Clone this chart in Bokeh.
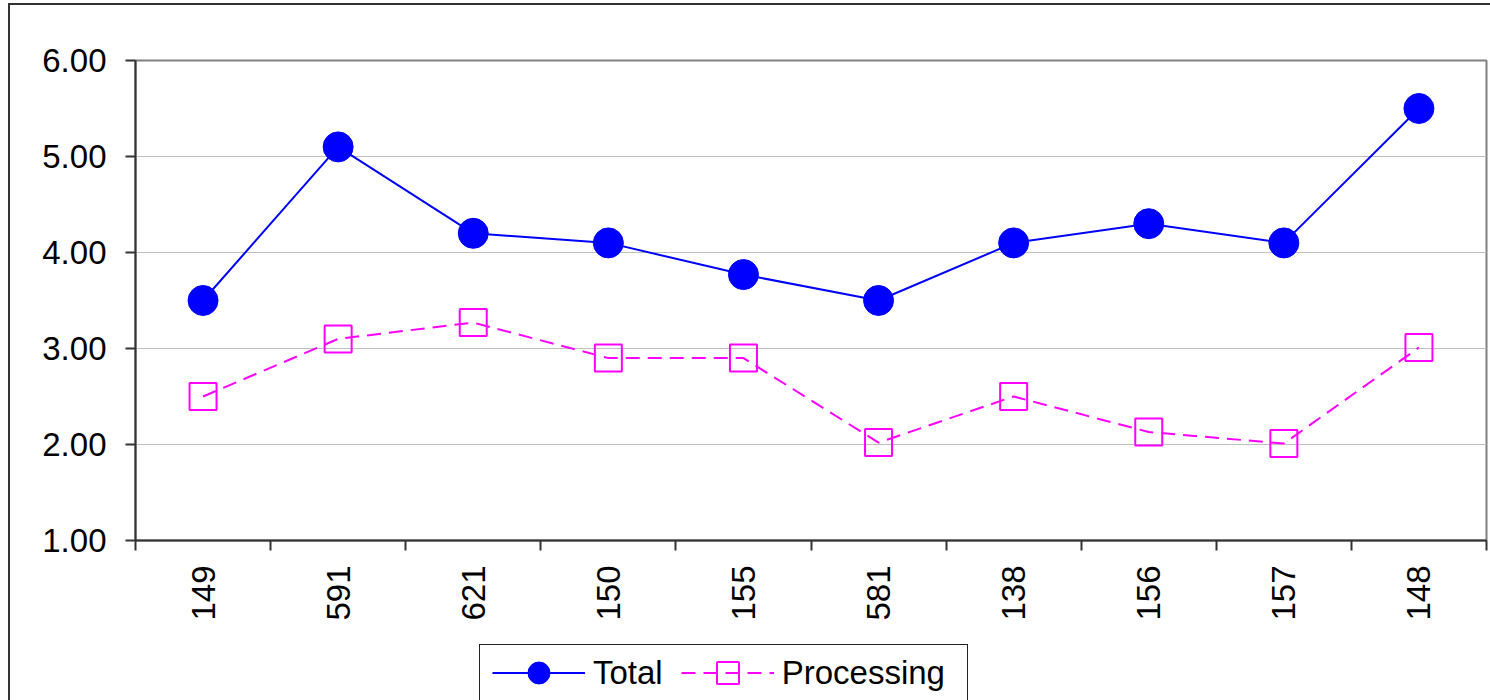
import math
from bokeh.plotting import figure
from bokeh.layouts import column
from bokeh.models import (FixedTicker, NumeralTickFormatter, Legend, LegendItem,
                          Range1d, InlineStyleSheet)
from bokeh.embed import file_html
from bokeh.resources import INLINE

# Categories along the x axis and the two series
categories = ["149", "591", "621", "150", "155", "581", "138", "156", "157", "148"]
total = [3.5, 5.1, 4.2, 4.1, 3.77, 3.5, 4.1, 4.3, 4.1, 5.5]
processing = [2.5, 3.1, 3.27, 2.9, 2.9, 2.02, 2.5, 2.13, 2.01, 3.01]
y_ticks = [1, 2, 3, 4, 5, 6]

FONT = "Liberation Sans"
BLUE = "#0000ff"
MAGENTA = "#ff00ff"
DASH = "14 8"

n = len(categories)
xs = [i + 0.5 for i in range(n)]

# Chart border (top and left edges) drawn with CSS around the plot
chart_border = InlineStyleSheet(css="""
:host { position: relative; }
:host::before {
  content: ""; position: absolute; left: 8px; top: 3px;
  width: 1482px; height: 633px; box-sizing: border-box;
  border-left: 2px solid #333; border-top: 2px solid #333;
  pointer-events: none; z-index: 10;
}
""")
# Continuation of the chart border and the box around the legend
legend_border = InlineStyleSheet(css="""
:host { position: relative; }
:host::before {
  content: ""; position: absolute; left: 8px; top: 0px;
  width: 2px; height: 64px; background: #333;
  pointer-events: none; z-index: 10;
}
:host::after {
  content: ""; position: absolute; left: 479px; top: 8px;
  width: 489px; height: 56px; box-sizing: border-box;
  border-left: 1.5px solid #222; border-top: 1.5px solid #222;
  border-right: 1.5px solid #222;
  pointer-events: none; z-index: 10;
}
""")

p = figure(width=1490, height=636, output_backend="svg", toolbar_location=None,
           x_range=Range1d(0, n), y_range=Range1d(y_ticks[0], y_ticks[-1]),
           min_border_left=135, min_border_right=4, min_border_top=60,
           min_border_bottom=96, stylesheets=[chart_border])
p.background_fill_color = "white"
p.border_fill_color = "white"
p.outline_line_color = "#808080"
p.outline_line_width = 2

# Y axis
p.yaxis.ticker = FixedTicker(ticks=y_ticks)
p.yaxis.formatter = NumeralTickFormatter(format="0.00")
p.yaxis.major_label_text_font = FONT
p.yaxis.major_label_text_font_size = "33px"
p.yaxis.major_label_text_color = "black"
p.yaxis.major_tick_out = 10
p.yaxis.major_tick_in = 0
p.yaxis.minor_tick_line_color = None
p.yaxis.major_label_standoff = 19
p.yaxis.axis_line_color = "#333333"
p.yaxis.axis_line_width = 2
p.yaxis.major_tick_line_color = "#333333"
p.yaxis.major_tick_line_width = 2

# X axis: labels at category centres, tick marks at category boundaries
p.xaxis.ticker = FixedTicker(ticks=xs, minor_ticks=list(range(n + 1)))
p.xaxis.major_label_overrides = {x: c for x, c in zip(xs, categories)}
p.xaxis.major_label_orientation = math.pi / 2
p.xaxis.major_label_text_font = FONT
p.xaxis.major_label_text_font_size = "33px"
p.xaxis.major_label_text_color = "black"
p.xaxis.major_tick_out = 0
p.xaxis.major_tick_in = 0
p.xaxis.minor_tick_out = 10
p.xaxis.minor_tick_in = 0
p.xaxis.minor_tick_line_color = "#333333"
p.xaxis.minor_tick_line_width = 2
p.xaxis.major_label_standoff = 15
p.xaxis.axis_line_color = "#333333"
p.xaxis.axis_line_width = 2

p.xgrid.grid_line_color = None
p.ygrid.ticker = FixedTicker(ticks=y_ticks)
p.ygrid.grid_line_color = "#c0c0c0"
p.ygrid.grid_line_width = 1


def draw_series(fig):
    lt = fig.line(xs, total, line_color=BLUE, line_width=2)
    st = fig.scatter(xs, total, size=30, marker="circle", fill_color=BLUE,
                     line_color=BLUE)
    lp = fig.line(xs, processing, line_color=MAGENTA, line_width=2,
                  line_dash=DASH)
    sp = fig.scatter(xs, processing, size=27, marker="square", fill_color=None,
                     line_color=MAGENTA, line_width=2)
    return lt, st, lp, sp


draw_series(p)

# Legend strip below the chart; its own renderers sit outside its view range.
# The column aligns this strip's frame with the chart frame (left edge at 135).
key = figure(width=1490, height=64, output_backend="svg", toolbar_location=None,
             x_range=Range1d(-200, -100), y_range=Range1d(-200, -100),
             x_axis_location=None, y_axis_location=None,
             min_border=0, stylesheets=[legend_border])
key.outline_line_color = None
key.grid.visible = False
key.background_fill_color = "white"
key.border_fill_color = "white"
lt, st, lp, sp = draw_series(key)

legend = Legend(items=[LegendItem(label="Total", renderers=[lt, st]),
                       LegendItem(label="Processing", renderers=[lp, sp])],
                orientation="horizontal", location=(357, 0),
                glyph_width=93, glyph_height=55, label_standoff=8, spacing=18,
                padding=0, margin=0, border_line_alpha=0,
                background_fill_alpha=0, label_text_font=FONT,
                label_text_font_size="33px", label_text_color="black")
key.add_layout(legend, "center")

page = column(p, key, spacing=0)
open("out.html", "w").write(file_html(page, INLINE))
